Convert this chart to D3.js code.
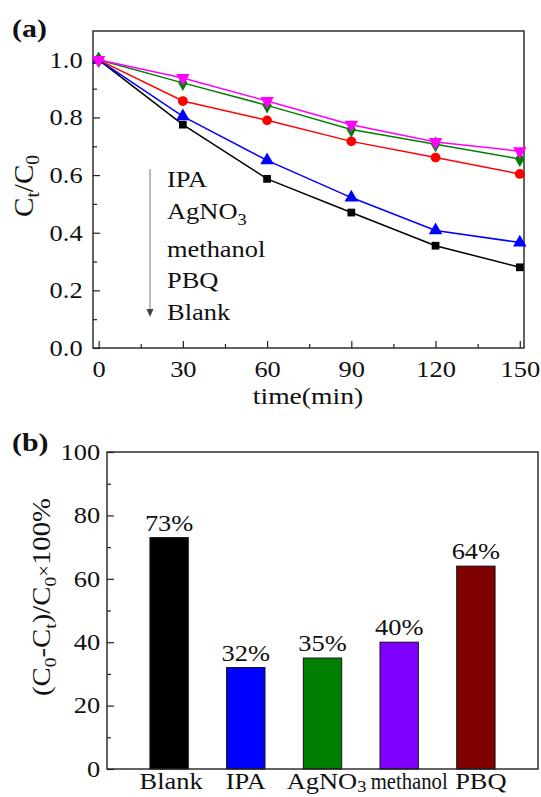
<!DOCTYPE html>
<html>
  <head>
    <meta charset="utf-8">
    <title>Ct/C0 and removal</title>
    <script type="text/javascript" src="https://d3js.org/d3.v7.min.js"></script>
    <style>
      body { margin: 0; background: #fff; }
      text { font-family: "Liberation Serif", "Times New Roman", serif; fill: #111; }
    </style>
  </head>
  <body>
    <script type="text/javascript">
        // panel (a) data
        var times = [0, 30, 60, 90, 120, 150]
        var blank = [1.0, 0.775, 0.587, 0.47, 0.355, 0.28]
        var pbq = [1.0, 0.804, 0.651, 0.522, 0.408, 0.366]
        var methanol = [1.0, 0.857, 0.79, 0.717, 0.661, 0.604]
        var agno3 = [1.0, 0.92, 0.842, 0.758, 0.707, 0.656]
        var ipa = [1.0, 0.937, 0.857, 0.775, 0.715, 0.683]

        // panel (b) data
        var categories = ["Blank", "IPA", "AgNO3", "methanol", "PBQ"]
        var removal = [73, 32, 35, 40, 64]
        var barLabels = ["73%", "32%", "35%", "40%", "64%"]

        var xTicksA = [0, 30, 60, 90, 120, 150]
        var yTicksA = [0.0, 0.2, 0.4, 0.6, 0.8, 1.0]
        var yTicksB = [0, 20, 40, 60, 80, 100]

        var W = 541, H = 797
        var SX = 1.15   // the original figure's text is a bit wide
        var svg = d3.select("body").append("svg")
            .attr("width", W)
            .attr("height", H)
            .style("background", "#fff")

        function txt(g, px, py, size, sx, rot) {
            return g.append("text")
                .attr("transform", "translate(" + px + "," + py + ")" + (rot ? " rotate(" + rot + ")" : "") + " scale(" + (sx || SX) + ",1)")
                .style("font-size", size + "px")
        }
        function styleTicks(g) {
            g.selectAll(".domain").remove()
            g.selectAll(".tick line").attr("stroke", "#222").attr("stroke-width", 1.2)
            g.selectAll(".tick text")
                .style("font-size", "23px")
                .style("font-family", "Liberation Serif")
                .attr("fill", "#111")
                .attr("transform", "scale(" + SX + ",1)")
        }

        // ---------- panel (a) ----------
        var a = {left: 93, right: 524, top: 31, bottom: 348}
        var x = d3.scaleLinear().domain([-2, 151.5]).range([a.left, a.right])
        var y = d3.scaleLinear().domain([0, 1.1]).range([a.bottom, a.top])

        var gA = svg.append("g")

        // minor ticks
        gA.append("g")
            .attr("transform", "translate(0," + a.bottom + ")")
            .call(d3.axisBottom(x).tickValues([15, 45, 75, 105, 135]).tickSize(-4).tickFormat(""))
        gA.append("g")
            .attr("transform", "translate(" + a.left + ",0)")
            .call(d3.axisLeft(y).tickValues([0.1, 0.3, 0.5, 0.7, 0.9]).tickSize(-4).tickFormat(""))

        var xAxisA = gA.append("g")
            .attr("transform", "translate(0," + a.bottom + ")")
            .call(d3.axisBottom(x).tickValues(xTicksA).tickSize(-7).tickFormat(d3.format("d")))
        var yAxisA = gA.append("g")
            .attr("transform", "translate(" + a.left + ",0)")
            .call(d3.axisLeft(y).tickValues(yTicksA).tickSize(-7).tickPadding(9).tickFormat(d3.format(".1f")))

        styleTicks(gA)
        xAxisA.selectAll(".tick text").attr("y", 29).attr("dy", 0)

        gA.append("rect")
            .attr("x", a.left).attr("y", a.top)
            .attr("width", a.right - a.left).attr("height", a.bottom - a.top)
            .attr("fill", "none").attr("stroke", "#222").attr("stroke-width", 1.4)

        var series = [
            {name: "Blank", values: blank, color: "#000000", symbol: d3.symbolSquare, size: 60, rot: 0},
            {name: "PBQ", values: pbq, color: "#0000ff", symbol: d3.symbolTriangle, size: 80, rot: 0},
            {name: "methanol", values: methanol, color: "#ff0000", symbol: d3.symbolCircle, size: 75, rot: 0},
            {name: "AgNO3", values: agno3, color: "#008000", symbol: d3.symbolDiamond, size: 75, rot: 0},
            {name: "IPA", values: ipa, color: "#ff00ff", symbol: d3.symbolTriangle, size: 80, rot: 180}
        ]

        var line = d3.line()
            .x(function(d, i){ return x(times[i]) })
            .y(function(d){ return y(d) })

        series.forEach(function(s){
            gA.append("path")
                .datum(s.values)
                .attr("d", line)
                .attr("fill", "none")
                .attr("stroke", s.color)
                .attr("stroke-width", 1.5)
            gA.selectAll(null)
                .data(s.values)
                .enter()
                .append("path")
                    .attr("d", d3.symbol().type(s.symbol).size(s.size))
                    .attr("transform", function(d, i){
                        return "translate(" + x(times[i]) + "," + y(d) + ") rotate(" + s.rot + ")"
                    })
                    .attr("fill", s.color)
        })

        // legend with arrow
        gA.append("line")
            .attr("x1", 150).attr("y1", 169).attr("x2", 150).attr("y2", 312)
            .attr("stroke", "#777").attr("stroke-width", 1)
        gA.append("path")
            .attr("d", "M146.5,309 L153.5,309 L150,317 Z")
            .attr("fill", "#444")

        var legendNames = ["IPA", "AgNO", "methanol", "PBQ", "Blank"]
        var legendBase = [187, 219, 257, 288, 320]
        legendNames.forEach(function(n, i){
            var t = txt(gA, 167, legendBase[i], 23).text(n)
            if (n == "AgNO") {
                t.append("tspan").attr("dy", 6).style("font-size", "16px").text("3")
            }
        })

        // axis titles
        txt(svg, 308, 404, 24).attr("text-anchor", "middle").text("time(min)")

        var ylabA = txt(svg, 33, 186, 27, 1.08, -90).attr("text-anchor", "middle")
        ylabA.append("tspan").text("C")
        ylabA.append("tspan").attr("dy", 6).style("font-size", "18px").text("t")
        ylabA.append("tspan").attr("dy", -6).text("/C")
        ylabA.append("tspan").attr("dy", 6).style("font-size", "18px").text("0")

        txt(svg, 12, 37, 26).style("font-weight", "bold").text("(a)")

        // ---------- panel (b) ----------
        var b = {left: 107, right: 538, top: 452, bottom: 769}
        var xb = d3.scaleBand().domain(categories).range([b.left, b.right]).paddingInner(0.5).paddingOuter(0.56)
        var yb = d3.scaleLinear().domain([0, 100]).range([b.bottom, b.top])

        var gB = svg.append("g")

        gB.append("g")
            .attr("transform", "translate(" + b.left + ",0)")
            .call(d3.axisLeft(yb).tickValues([10, 30, 50, 70, 90]).tickSize(-4).tickFormat(""))
        gB.append("g")
            .attr("transform", "translate(" + b.left + ",0)")
            .call(d3.axisLeft(yb).tickValues(yTicksB).tickSize(-7).tickPadding(6).tickFormat(d3.format("d")))
        styleTicks(gB)

        var barColors = ["#000000", "#0000ff", "#008000", "#8000ff", "#800000"]

        gB.selectAll("rect.bar")
            .data(removal)
            .enter()
            .append("rect")
                .attr("class", "bar")
                .attr("x", function(d, i){ return xb(categories[i]) })
                .attr("y", function(d){ return yb(d) })
                .attr("width", xb.bandwidth())
                .attr("height", function(d){ return yb(0) - yb(d) })
                .attr("fill", function(d, i){ return barColors[i] })
                .attr("stroke", "#111")
                .attr("stroke-width", 1)

        removal.forEach(function(d, i){
            txt(gB, xb(categories[i]) + xb.bandwidth() / 2, yb(d) - 7, 23)
                .attr("text-anchor", "middle")
                .text(barLabels[i])
        })

        gB.append("rect")
            .attr("x", b.left).attr("y", b.top)
            .attr("width", b.right - b.left).attr("height", b.bottom - b.top)
            .attr("fill", "none").attr("stroke", "#222").attr("stroke-width", 1.4)

        // category labels (methanol is squeezed and nudged in the original)
        var catShift = [2, 0, 4, 10, 5]
        var catSX = [SX, SX, SX, 0.9, SX]
        categories.forEach(function(c, i){
            var t = txt(gB, xb(c) + xb.bandwidth() / 2 + catShift[i], 789, 23, catSX[i])
                .attr("text-anchor", "middle")
            if (c == "AgNO3") {
                t.append("tspan").text("AgNO")
                t.append("tspan").attr("dy", 3).style("font-size", "16px").text("3")
            } else {
                t.text(c)
            }
        })

        var ylabB = txt(svg, 50, 597, 25, SX, -90).attr("text-anchor", "middle")
        ylabB.append("tspan").text("(C")
        ylabB.append("tspan").attr("dy", 6).style("font-size", "17px").text("0")
        ylabB.append("tspan").attr("dy", -6).text("-C")
        ylabB.append("tspan").attr("dy", 6).style("font-size", "17px").text("t")
        ylabB.append("tspan").attr("dy", -6).text(")/C")
        ylabB.append("tspan").attr("dy", 6).style("font-size", "17px").text("0")
        ylabB.append("tspan").attr("dy", -6).style("font-size", "18px").text("×")
        ylabB.append("tspan").text("100%")

        txt(svg, 12, 451, 26).style("font-weight", "bold").text("(b)")
    </script>
  </body>
</html>
